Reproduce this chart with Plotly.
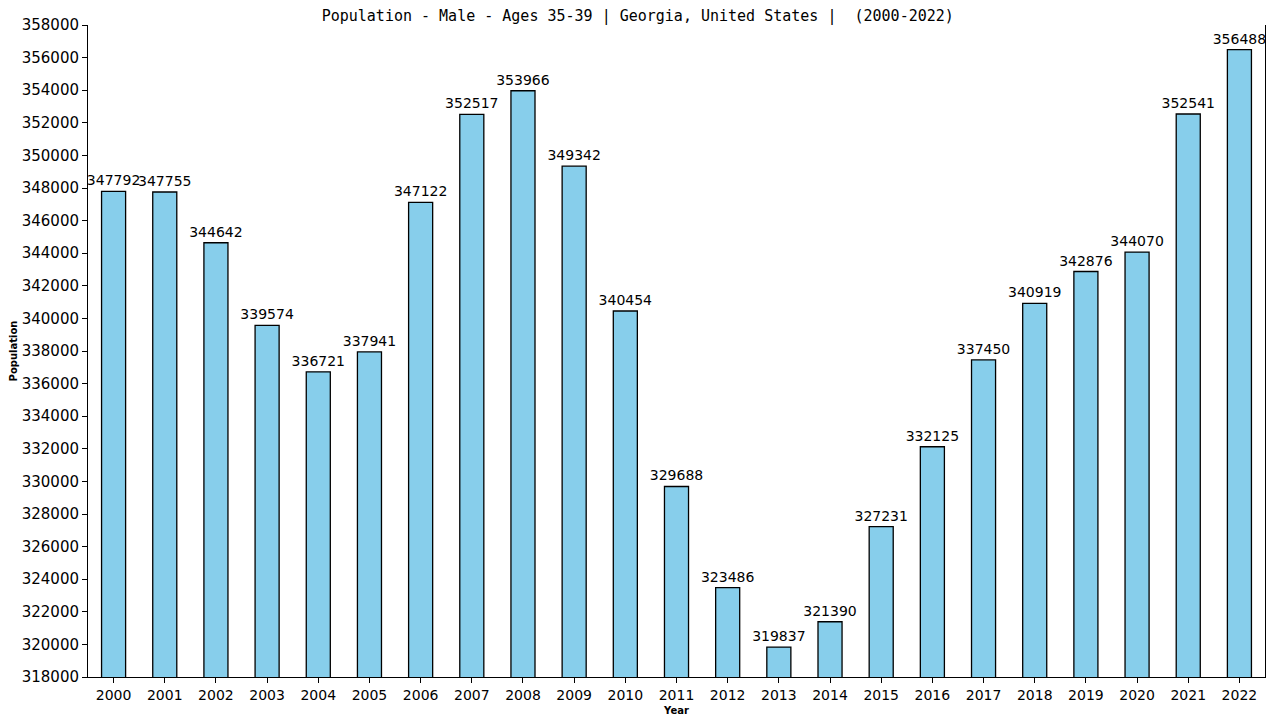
import plotly.graph_objects as go

years = [str(y) for y in range(2000, 2023)]
population = [347792, 347755, 344642, 339574, 336721, 337941, 347122, 352517, 353966, 349342,
              340454, 329688, 323486, 319837, 321390, 327231, 332125, 337450, 340919, 342876,
              344070, 352541, 356488]
y_ticks = list(range(318000, 358001, 2000))

fig = go.Figure(go.Bar(
    x=years,
    y=population,
    text=[str(v) for v in population],
    textposition='outside',
    constraintext='none',
    cliponaxis=False,
    textfont=dict(family="DejaVu Sans", size=14, color='black'),
    marker=dict(color='#87CEEB', line=dict(color='black', width=1.3)),
))

# the page body adds an 8px offset, so margins are shifted to compensate
fig.update_layout(
    width=1280, height=720,
    plot_bgcolor='white', paper_bgcolor='white',
    margin=dict(l=80, r=23, t=17, b=51),
    bargap=0.53,
    showlegend=False,
    title=dict(text="Population - Male - Ages 35-39 | Georgia, United States |  (2000-2022)",
               x=0.492, xanchor='center', y=0.997, yanchor='top', pad=dict(t=0),
               font=dict(family="DejaVu Sans Mono", size=15, color='black')),
    xaxis=dict(
        title=dict(text="<b>Year</b>", font=dict(family="DejaVu Sans", size=10, color='black'), standoff=5),
        automargin=False,
        showline=True, linecolor='black', linewidth=1,
        ticks='outside', ticklen=5, tickcolor='black',
        tickfont=dict(family="DejaVu Sans", size=14, color='black'),
    ),
    yaxis=dict(
        title=dict(text="<b>Population</b>", font=dict(family="DejaVu Sans", size=10, color='black'), standoff=6),
        automargin=False,
        range=[318000, 358000],
        tickvals=y_ticks,
        ticktext=[str(t) for t in y_ticks],
        showline=True, mirror=True, linecolor='black', linewidth=1,
        showgrid=False, zeroline=False,
        ticks='outside', ticklen=5, tickcolor='black',
        tickfont=dict(family="DejaVu Sans", size=15, color='black'),
    ),
)

fig.write_html("out.html")
